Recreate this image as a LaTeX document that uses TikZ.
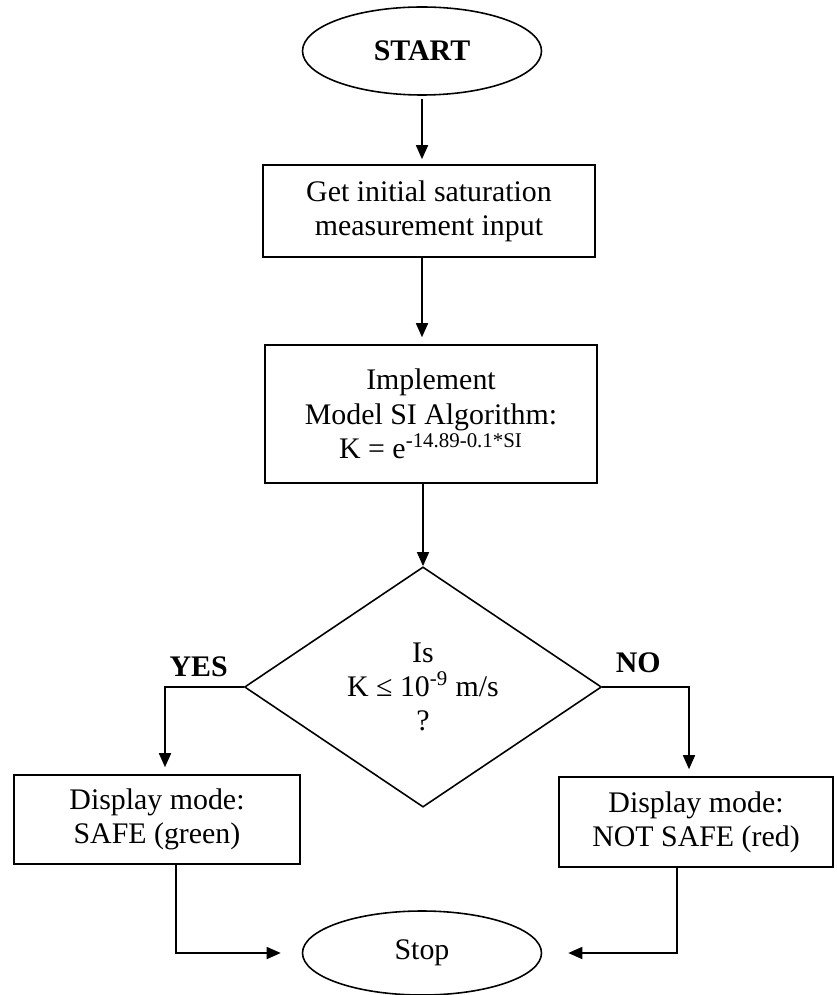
\documentclass[tikz,border=0pt]{standalone}
\usepackage{fontspec}
\setmainfont{Liberation Serif}
\usetikzlibrary{shapes.geometric,arrows.meta}

\begin{document}
\begin{tikzpicture}[
  font=\fontsize{17}{19.5}\selectfont,
  box/.style={rectangle,draw,line width=.9pt,align=center,inner sep=0pt},
  term/.style={ellipse,draw,line width=.9pt,inner sep=0pt,minimum width=4.78cm},
  flow/.style={line width=.9pt,-{Triangle[width=.24cm,length=.28cm]}}]
  \useasboundingbox (0,0) rectangle (16.72,-19.9);
  \draw(8.44,-1.02) node[term,minimum height=1.76cm] (start) {\textbf{START}};
  \draw(8.58,-4.22) node[box,minimum width=6.64cm,minimum height=1.84cm] (input) {Get initial saturation\\measurement input};
  \draw(8.62,-8.28) node[box,minimum width=6.64cm,minimum height=2.76cm] (model) {Implement\\Model SI Algorithm:\\K = e\textsuperscript{-14.89-0.1*SI}};
  \draw(8.46,-13.74) node[diamond,draw,line width=.9pt,align=center,inner sep=0pt,minimum width=7.14cm,minimum height=4.6cm] (check) {Is\\K ≤ 10\textsuperscript{-9} m/s\\?};
  \draw(3.14,-16.39) node[box,minimum width=5.72cm,minimum height=1.78cm] (safe) {Display mode:\\SAFE (green)};
  \draw(13.92,-16.44) node[box,minimum width=5.48cm,minimum height=1.8cm] (unsafe) {Display mode:\\NOT SAFE (red)};
  \draw(8.44,-19.06) node[term,minimum height=1.68cm] (stop) {Stop};
  \node at ([xshift=-.9cm,yshift=.4cm]check.west) (yes) {\textbf{YES}};
  \node at ([xshift=.72cm,yshift=.48cm]check.east) (no) {\textbf{NO}};
  % main line
  \draw[flow,shorten <=.06cm,shorten >=.1cm] (start.south) -- (start.south |- input.north);
  \draw[flow,shorten >=.14cm] (input.south -| start.south) -- (model.north -| start.south);
  \draw[flow] (model.south -| check.north) -- (check.north);
  % branches
  \draw[flow,shorten >=.14cm] (check.west) -| ([xshift=.16cm]safe.north);
  \draw[flow,shorten >=.14cm] (check.east) -| ([xshift=-.14cm]unsafe.north);
  \draw[flow,shorten >=.42cm] ([xshift=.38cm]safe.south) |- (stop.west);
  \draw[flow,shorten >=.52cm] ([xshift=-.38cm]unsafe.south) |- (stop.east);
\end{tikzpicture}
\end{document}
